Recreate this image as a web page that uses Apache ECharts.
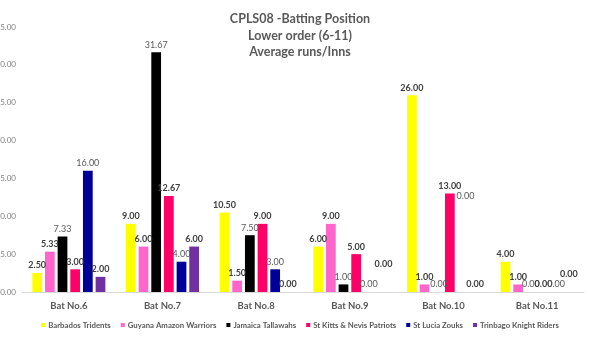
<!DOCTYPE html>
<html>
<head>
<meta charset="utf-8">
<script src="https://cdn.jsdelivr.net/npm/echarts@6/dist/echarts.min.js"></script>
<style>
    html, body { margin: 0; padding: 0; background: #fff; }
    #chart { width: 600px; height: 350px; }
</style>
</head>
<body>
<div id="chart"></div>
<script>
var categories = ['Bat No.6', 'Bat No.7', 'Bat No.8', 'Bat No.9', 'Bat No.10', 'Bat No.11']
var teams = ['Barbados Tridents', 'Guyana Amazon Warriors', 'Jamaica Tallawahs', 'St Kitts & Nevis Patriots', 'St Lucia Zouks', 'Trinbago Knight Riders']
var barbados = [2.50, 9.00, 10.50, 6.00, 26.00, 4.00]
var guyana = [5.33, 6.00, 1.50, 9.00, 1.00, 1.00]
var jamaica = [7.33, 31.67, 7.50, 1.00, 0.00, 0.00]
var stKitts = [3.00, 12.67, 9.00, 5.00, 13.00, 0.00]
var stLucia = [16.00, 4.00, 3.00, 0.00, 0.00, 0.00]
var trinbago = [2.00, 6.00, 0.00, 0.00, 0.00, 0.00]
var colors = ['#FFFF00', '#FF66CC', '#000000', '#FF0066', '#000099', '#7030A0']

var font = 'Lato, "Noto Sans", sans-serif'
var seriesData = [barbados, guyana, jamaica, stKitts, stLucia, trinbago]
// excel had some labels dragged by hand: [series, category, dx, dy]
var labelMoves = [[5, 3, 2, -20], [4, 4, 3, -88], [5, 5, 0, -10], [2, 4, 2, 0]]
var plainLabels = [2, 4]   // black and navy labels are not bold

var myChart = echarts.init(document.getElementById('chart'))
myChart.setOption({
    animation: false,
    color: colors,
    title: {
        text: 'CPLS08 -Batting Position\nLower order (6-11)\nAverage runs/Inns',
        left: 'center',
        top: 6,
        textStyle: {
            color: '#595959',
            fontSize: 12.5,
            fontWeight: 'bold',
            fontFamily: font,
            lineHeight: 16.5
        }
    },
    legend: {
        data: teams,
        top: 316,
        left: 'center',
        width: 590,
        itemWidth: 4,
        itemHeight: 4,
        itemGap: 10,
        icon: 'rect',
        textStyle: {
            color: '#595959',
            fontSize: 7.8,
            fontWeight: 'bold',
            fontFamily: font,
            padding: [0, 0, 0, -2]
        }
    },
    grid: {
        left: 22,
        right: 16,
        top: 27,
        bottom: 58,
        containLabel: false,
        outerBoundsMode: 'none'
    },
    xAxis: {
        type: 'category',
        data: categories,
        axisLine: { lineStyle: { color: '#d9d9d9' } },
        axisTick: { show: false },
        axisLabel: {
            color: '#595959',
            fontSize: 9.5,
            fontWeight: 'bold',
            fontFamily: font,
            margin: 9
        }
    },
    yAxis: {
        type: 'value',
        min: 0,
        max: 35,
        interval: 5,
        splitLine: { show: false },
        axisLine: { show: false },
        axisTick: { show: false },
        axisLabel: {
            color: '#7f7f7f',
            fontSize: 8,
            fontFamily: font,
            margin: 6,
            formatter: function (v) { return v.toFixed(2) }
        }
    },
    series: teams.map(function (name, i) {
        var data = seriesData[i].map(function (v, j) {
            var item = { value: v }
            labelMoves.forEach(function (m) {
                if (m[0] === i && m[1] === j) item.label = { offset: [m[2], m[3]] }
            })
            return item
        })
        return {
            name: name,
            type: 'bar',
            data: data,
            barGap: '30%',
            barCategoryGap: '22%',
            label: {
                show: true,
                position: 'top',
                distance: 3,
                color: plainLabels.indexOf(i) >= 0 ? '#595959' : '#404040',
                fontSize: 9,
                fontWeight: plainLabels.indexOf(i) >= 0 ? 'normal' : 'bold',
                fontFamily: font,
                formatter: function (p) { return p.value.toFixed(2) }
            }
        }
    })
})
</script>
</body>
</html>
